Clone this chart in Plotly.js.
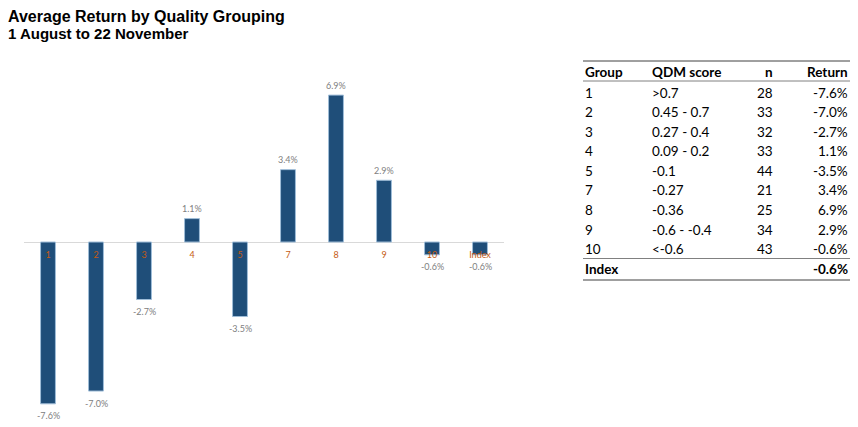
<!DOCTYPE html>
<html><head><meta charset="utf-8">
<script src="https://cdn.plot.ly/plotly-3.0.1.min.js"></script>
<style>html,body{margin:0;padding:0;background:#fff}#chart{width:858px;height:427px}</style>
</head><body><div id="chart"></div>
<script>
// chart data
const categories = ['1','2','3','4','5','7','8','9','10','Index'];
const returns = [-7.6, -7.0, -2.7, 1.1, -3.5, 3.4, 6.9, 2.9, -0.6, -0.6];

// table data
const tblHeader = ['Group', 'QDM score', 'n', 'Return'];
const tblGroup = ['1','2','3','4','5','7','8','9','10'];
const tblScore = ['>0.7','0.45 - 0.7','0.27 - 0.4','0.09 - 0.2','-0.1','-0.27','-0.36','-0.6 - -0.4','<-0.6'];
const tblN = ['28','33','32','33','44','21','25','34','43'];
const tblReturn = ['-7.6%','-7.0%','-2.7%','1.1%','-3.5%','3.4%','6.9%','2.9%','-0.6%'];
const tblIndexLabel = 'Index';
const tblIndexReturn = '-0.6%';

const W = 858, H = 427;
const px = x => x / W;
const py = y => 1 - y / H;

const yRange = [-8.36, 7.61];
const yDom = [py(420), py(80)];
const zeroFrac = (0 - yRange[0]) / (yRange[1] - yRange[0]);
const zeroPos = yDom[0] + zeroFrac * (yDom[1] - yDom[0]);

const trace = {
  type: 'bar',
  x: categories,
  y: returns,
  marker: {color: '#1F4E79', line: {color: '#9fbdd8', width: 1}},
  cliponaxis: false,
  hoverinfo: 'skip'
};

const annotations = [];
const shapes = [];

// value labels, placed with the axes' own scales (category index on x)
categories.forEach((c, i) => {
  const v = returns[i];
  annotations.push({xref:'x', yref:'y', x: i, y: v, xanchor:'center', yanchor:'middle',
    yshift: v >= 0 ? 10 : -12, text: v.toFixed(1) + '%', showarrow:false, borderpad:0,
    font:{family:'Lato, sans-serif', size:9, color:'#808080'}});
});

const tf = 'Lato, sans-serif';
const fs = 13.5;
const colX = {g: 584, s: 651, n: 774, r: 849};
function addRow(yPix, cells, bold) {
  const w = bold ? '<b>' : '', we = bold ? '</b>' : '';
  const mk = (x, anchor, t) => annotations.push({xref:'paper', yref:'paper', x: px(x), y: py(yPix), xanchor: anchor, yanchor:'middle', text: w+t+we, showarrow:false, borderpad:0, font:{family:tf,size:fs,color:'#000'}});
  mk(colX.g, 'left', cells[0]);
  if (cells[1]) mk(colX.s, 'left', cells[1]);
  if (cells[2]) mk(colX.n, 'right', cells[2]);
  if (cells[3]) mk(colX.r, 'right', cells[3]);
}
addRow(72, tblHeader, true);
const rowH = 19.6;
for (let i = 0; i < tblGroup.length; i++) {
  addRow(92.5 + i * rowH, [tblGroup[i], tblScore[i], tblN[i], tblReturn[i]], false);
}
addRow(269, [tblIndexLabel, '', '', tblIndexReturn], true);
[61, 81, 258.5, 280].forEach((y, i) => {
  shapes.push({type:'line', xref:'paper', yref:'paper', x0: px(583), x1: px(850), y0: py(y), y1: py(y), line:{color: i===1||i===2 ? '#808080' : '#404040', width: 1}});
});

// subtitle
annotations.push({xref:'paper', yref:'paper', x: px(7), y: py(34), xanchor:'left', yanchor:'middle', borderpad:0, text:'<b>1 August to 22 November</b>', showarrow:false, font:{family:'Liberation Sans, Arial, sans-serif', size:15, color:'#000'}});

const layout = {
  width: W, height: H,
  margin: {l:0, r:0, t:0, b:0},
  paper_bgcolor: '#fff', plot_bgcolor: '#fff',
  showlegend: false,
  title: {text: '<b>Average Return by Quality Grouping</b>', x: px(8), xanchor: 'left', y: py(16), yanchor: 'middle', yref: 'paper',
          font: {family: 'Liberation Sans, Arial, sans-serif', size: 16, color: '#000'}},
  bargap: 0.69,
  xaxis: {domain: [px(24), px(504)], range: [-0.5, categories.length - 0.5], anchor: 'free', position: zeroPos, type: 'category',
          showline: false, showgrid: false, zeroline: false, ticks: '', ticklabelstandoff: 6,
          tickfont: {family: 'Lato, sans-serif', size: 9, color: '#C55A11'}, fixedrange: true},
  yaxis: {domain: yDom, range: yRange, visible: true, showticklabels: false, showgrid: false,
          zeroline: true, zerolinecolor: '#d9d9d9', zerolinewidth: 1, showline: false, ticks: '', fixedrange: true},
  annotations: annotations,
  shapes: shapes
};

Plotly.newPlot('chart', [trace], layout, {displayModeBar: false, staticPlot: true});
</script></body></html>
